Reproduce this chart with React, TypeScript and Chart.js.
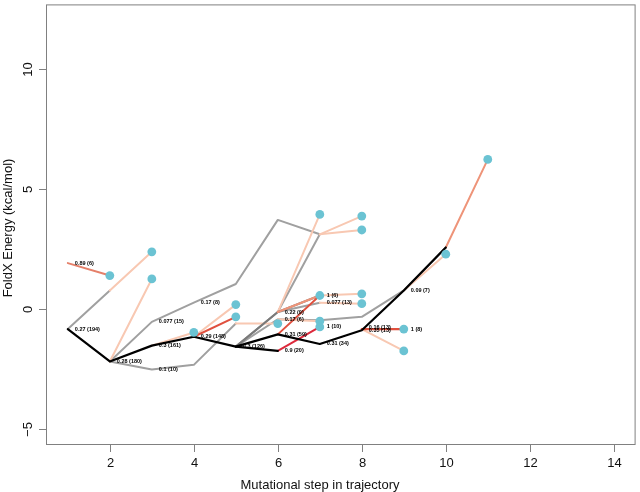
import React, { useEffect, useRef } from "react";
import { Chart, registerables } from "chart.js";

Chart.register(...registerables);

// ---- data (step, FoldX energy) ----
const blackMain = [[1, -0.85], [2, -2.2], [3, -1.54], [4, -1.17], [5, -1.58], [6, -1.07], [7, -1.47], [8, -0.9], [9, 0.76], [10, 2.55]];
const blackBranch = [[5, -1.58], [6, -1.76]];

const grayA = [[1, -0.85], [2, 0.76]];
const grayB = [[2, -2.2], [3, -0.55], [4, 0.25], [5, 1.03], [6, 3.7], [7, 3.1]];
const grayC = [[2, -2.2], [3, -2.53], [4, -2.34], [5, -0.62]];
const grayD = [[5, -1.58], [6, -0.14], [7, 3.1]];
const grayE = [[5, -1.58], [6, -0.44], [7, -0.48], [8, -0.34], [9, 0.76], [10, 2.55]];
const grayF = [[6, -0.14], [7, 0.25]];
const darkGrayA = [[5, -1.58], [6, -0.14], [7, 0.55]];

const lightA = [[2, 0.76], [3, 2.37]];
const lightB = [[2, -2.2], [3, 1.24]];
const lightC = [[3, -1.54], [4, -0.99]];
const lightD = [[4, -1.17], [5, 0.17]];
const lightE = [[5, -0.62], [6, -0.62]];
const lightF = [[6, -0.14], [7, 3.93]];
const lightG = [[7, 3.1], [8, 3.86]];
const lightH = [[7, 3.1], [8, 3.28]];
const lightI = [[7, 0.55], [8, 0.62]];
const lightJ = [[7, 0.25], [8, 0.21]];
const lightK = [[8, -0.85], [9, -1.76]];
const lightL = [[9, 0.76], [10, 2.27]];
const lightM = [[6, -0.44], [7, -0.52]];

const salmonA = [[10, 2.55], [11, 6.22]];
const salmonB = [[6, -0.14], [7, 0.55]];
const salmonC = [[1, 1.9], [2, 1.38]];

const redA = [[4, -1.17], [5, -0.34]];
const redB = [[6, -1.07], [7, 0.55]];
const redC = [[6, -1.76], [7, -0.76]];
const redD = [[8, -0.85], [9, -0.85]];

const endSteps = [2, 3, 3, 4, 5, 5, 6, 7, 8, 8, 7, 8, 8, 7, 7, 9, 9, 10, 11];
const endEnergies = [1.38, 2.37, 1.24, -0.99, 0.17, -0.34, -0.62, 3.93, 3.86, 3.28, 0.55, 0.62, 0.21, -0.52, -0.76, -0.85, -1.76, 2.27, 6.22];

const labelTexts = ["0.89 (6)", "0.27 (194)", "0.28 (180)", "0.077 (15)", "0.3 (161)", "0.1 (10)", "0.17 (8)", "0.29 (148)", "0.3 (126)", "0.22 (9)", "0.17 (6)", "0.31 (59)", "0.9 (20)", "1 (6)", "0.077 (13)", "1 (10)", "0.31 (34)", "0.16 (13)", "0.35 (13)", "1 (8)", "0.09 (7)"];
const labelSteps = [1, 1, 2, 3, 3, 3, 4, 4, 5, 6, 6, 6, 6, 7, 7, 7, 7, 8, 8, 9, 9];
const labelEnergies = [1.9, -0.85, -2.2, -0.55, -1.54, -2.53, 0.25, -1.17, -1.58, -0.14, -0.44, -1.07, -1.76, 0.55, 0.25, -0.76, -1.47, -0.8, -0.92, -0.85, 0.76];

const xTicks = [2, 4, 6, 8, 10, 12, 14];
const yTicks = [-5, 0, 5, 10];

const X_MIN = 0.48, X_MAX = 14.52, Y_MIN = -5.68, Y_MAX = 12.68;

const BLACK = "#000000";
const GRAY = "#a0a0a0";
const DARK_GRAY = "#7a7a7a";
const LIGHT = "#f8c8b2";
const SALMON = "#ee9479";
const RED = "#e0503e";
const CRIMSON = "#dc2a3c";
const DOT = "#6bc3d3";
const AXIS = "#808080";

const toPts = (arr: number[][]) => arr.map(([x, y]) => ({ x, y }));

export default function App() {
  const ref = useRef<HTMLCanvasElement | null>(null);

  useEffect(() => {
    if (!ref.current) return;
    const lineSpecs: [number[][], string, number][] = [
      [blackMain, BLACK, 2.2],
      [blackBranch, BLACK, 2.2],
      [redC, CRIMSON, 2.0],
      [redA, RED, 2.0],
      [redB, RED, 2.0],
      [redD, RED, 2.2],
      [salmonA, SALMON, 2.0],
      [salmonB, SALMON, 2.0],
      [salmonC, "#e5806a", 2.0],
      [darkGrayA, DARK_GRAY, 2.0],
      [lightA, LIGHT, 2.0],
      [lightB, LIGHT, 2.0],
      [lightC, LIGHT, 2.0],
      [lightD, LIGHT, 2.0],
      [lightE, LIGHT, 2.0],
      [lightF, LIGHT, 2.0],
      [lightG, LIGHT, 2.0],
      [lightH, LIGHT, 2.0],
      [lightI, LIGHT, 2.0],
      [lightJ, LIGHT, 2.0],
      [lightK, LIGHT, 2.0],
      [lightL, LIGHT, 2.0],
      [lightM, LIGHT, 2.0],
      [grayA, GRAY, 2.0],
      [grayB, GRAY, 2.0],
      [grayC, GRAY, 2.0],
      [grayD, GRAY, 2.0],
      [grayE, GRAY, 2.0],
      [grayF, GRAY, 2.0],
    ];

    const datasets: any[] = [
      {
        type: "scatter",
        data: endSteps.map((x, i) => ({ x, y: endEnergies[i] })),
        showLine: false,
        pointRadius: 4.4,
        pointBackgroundColor: DOT,
        pointBorderWidth: 0,
        order: -1,
      },
      ...lineSpecs.map(([arr, color, w]) => ({
        type: "line",
        data: toPts(arr),
        borderColor: color,
        borderWidth: w,
        pointRadius: 0,
        fill: false,
        tension: 0,
        borderJoinStyle: "round",
        borderCapStyle: "round",
      })),
    ];

    const axesPlugin = {
      id: "rAxes",
      afterDatasetsDraw(chart: any) {
        const ctx = chart.ctx;
        const xs = chart.scales.x;
        const ys = chart.scales.y;
        ctx.save();
        ctx.fillStyle = "#000";
        ctx.font = "bold 5.5px 'Liberation Sans', Arial, sans-serif";
        ctx.textAlign = "left";
        ctx.textBaseline = "middle";
        labelTexts.forEach((t, i) => {
          ctx.fillText(t, xs.getPixelForValue(labelSteps[i]) + 7, ys.getPixelForValue(labelEnergies[i]));
        });
        ctx.restore();
      },
      afterDraw(chart: any) {
        const ctx = chart.ctx;
        const { left, right, top, bottom } = chart.chartArea;
        const xs = chart.scales.x;
        const ys = chart.scales.y;
        ctx.save();
        ctx.strokeStyle = AXIS;
        ctx.lineWidth = 1;
        ctx.strokeRect(left + 0.5, top + 0.5, right - left - 1, bottom - top - 1);
        ctx.fillStyle = "#111";
        ctx.font = "13px 'Liberation Sans', Arial, sans-serif";
        ctx.textAlign = "center";
        ctx.textBaseline = "middle";
        xTicks.forEach((v) => {
          const px = Math.round(xs.getPixelForValue(v)) + 0.5;
          ctx.beginPath();
          ctx.moveTo(px, bottom);
          ctx.lineTo(px, bottom + 7);
          ctx.stroke();
          ctx.fillText(String(v), px, 463);
        });
        yTicks.forEach((v) => {
          const py = Math.round(ys.getPixelForValue(v)) + 0.5;
          ctx.beginPath();
          ctx.moveTo(left - 7, py);
          ctx.lineTo(left, py);
          ctx.stroke();
          ctx.save();
          ctx.translate(28, py);
          ctx.rotate(-Math.PI / 2);
          ctx.fillText(v < 0 ? "\u2212" + Math.abs(v) : String(v), 0, 0);
          ctx.restore();
        });
        ctx.fillText("Mutational step in trajectory", 320, 485);
        ctx.save();
        ctx.translate(8, 228);
        ctx.rotate(-Math.PI / 2);
        ctx.fillText("FoldX Energy (kcal/mol)", 0, 0);
        ctx.restore();
        ctx.restore();
      },
    };

    const chart = new Chart(ref.current, {
      type: "line",
      data: { datasets },
      options: {
        animation: false,
        responsive: false,
        maintainAspectRatio: false,
        layout: { padding: { left: 46, top: 1, right: 1, bottom: 47 } },
        scales: {
          x: { type: "linear", min: X_MIN, max: X_MAX, display: false },
          y: { type: "linear", min: Y_MIN, max: Y_MAX, display: false },
        },
        plugins: { legend: { display: false }, tooltip: { enabled: false } },
      },
      plugins: [axesPlugin],
    } as any);
    return () => chart.destroy();
  }, []);

  return (
    <div style={{ position: "fixed", left: 0, top: 0, width: 640, height: 492, background: "#fff" }}>
      <canvas ref={ref} width={640} height={492} style={{ width: 640, height: 492 }} />
    </div>
  );
}
